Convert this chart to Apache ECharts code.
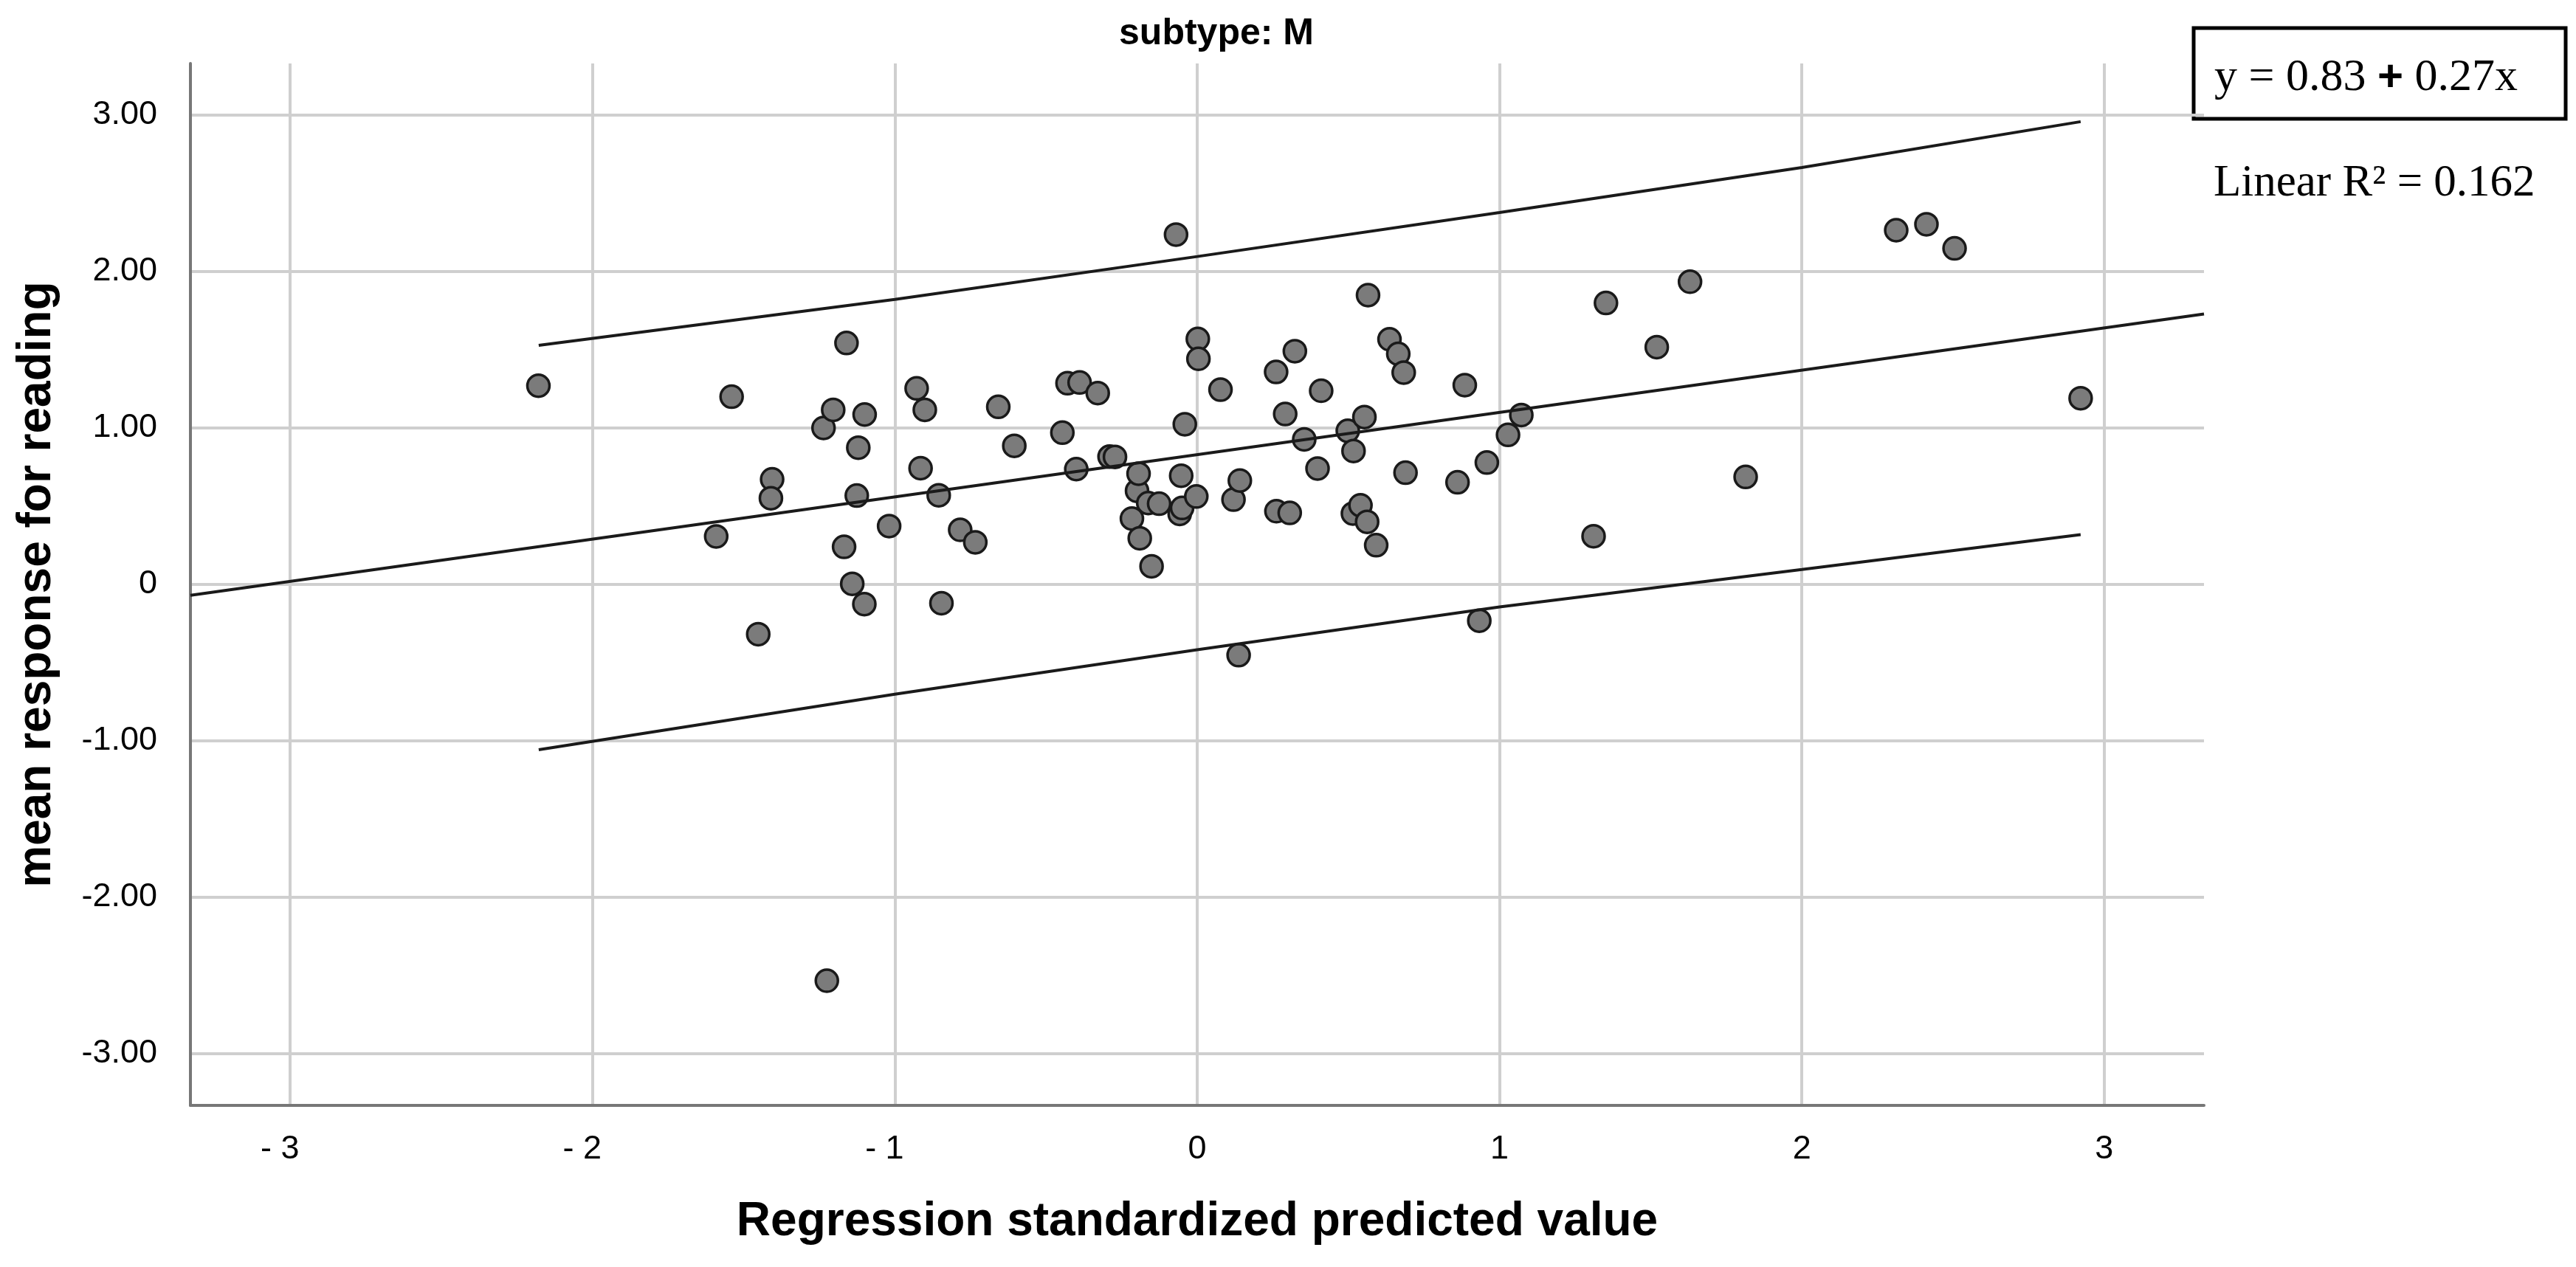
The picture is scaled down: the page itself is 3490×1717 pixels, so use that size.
<!DOCTYPE html>
<html>
<head>
<meta charset="utf-8">
<script src="https://cdn.jsdelivr.net/npm/echarts@6/dist/echarts.min.js"></script>
<style>
html,body{margin:0;padding:0;background:#ffffff;}
#chart{width:3490px;height:1717px;}
</style>
</head>
<body>
<div id="chart"></div>
<script>
// ---- data ----
const chartTitle = 'subtype: M';
const xAxisTitle = 'Regression standardized predicted value';
const yAxisTitle = 'mean response for reading';

const xTicks = [-3, -2, -1, 0, 1, 2, 3];
const yTicks = [-3, -2, -1, 0, 1, 2, 3];
const axisRange = [-3.33, 3.33];

const intercept = 0.83;
const slope = 0.27;
const rSquared = 0.162;

// observed points [predicted (std), mean response]
const points = [
  [-2.179, 1.270], [-1.591, 0.307], [-1.540, 1.200], [-1.452, -0.318],
  [-1.406, 0.672], [-1.410, 0.551], [-1.236, 1.000], [-1.225, -2.533],
  [-1.204, 1.116], [-1.168, 0.240], [-1.160, 1.543], [-1.141, 0.004],
  [-1.126, 0.568], [-1.121, 0.874], [-1.101, -0.126], [-1.100, 1.086],
  [-1.019, 0.373], [-0.928, 1.253], [-0.915, 0.743], [-0.901, 1.116],
  [-0.855, 0.570], [-0.846, -0.120], [-0.784, 0.349], [-0.734, 0.269],
  [-0.658, 1.135], [-0.605, 0.886], [-0.446, 0.970], [-0.429, 1.286],
  [-0.400, 0.737], [-0.389, 1.291], [-0.329, 1.223], [-0.290, 0.817],
  [-0.272, 0.815], [-0.216, 0.421], [-0.199, 0.598], [-0.194, 0.708],
  [-0.190, 0.295], [-0.162, 0.520], [-0.151, 0.116], [-0.126, 0.516],
  [-0.070, 2.236], [-0.058, 0.451], [-0.053, 0.695], [-0.050, 0.489],
  [-0.041, 1.024], [-0.003, 0.562], [0.002, 1.569], [0.004, 1.442],
  [0.077, 1.245], [0.120, 0.542], [0.137, -0.452], [0.141, 0.664],
  [0.261, 1.358], [0.262, 0.468], [0.291, 1.089], [0.306, 0.457],
  [0.323, 1.491], [0.354, 0.927], [0.398, 0.741], [0.410, 1.238],
  [0.498, 0.982], [0.515, 0.453], [0.517, 0.853], [0.540, 0.506],
  [0.553, 1.070], [0.562, 0.400], [0.565, 1.849], [0.592, 0.251],
  [0.636, 1.567], [0.665, 1.474], [0.683, 1.354], [0.689, 0.714],
  [0.861, 0.653], [0.885, 1.274], [0.933, -0.232], [0.958, 0.779],
  [1.028, 0.956], [1.072, 1.083], [1.311, 0.308], [1.352, 1.799],
  [1.520, 1.517], [1.630, 1.935], [1.814, 0.687], [2.312, 2.264],
  [2.412, 2.302], [2.505, 2.148], [2.922, 1.190]
];

// prediction interval curves
const upperBand = [[-2.178, 1.528], [-1, 1.822], [0, 2.096], [1, 2.377], [2, 2.665], [2.922, 2.958]];
const lowerBand = [[-2.178, -1.057], [-1, -0.702], [0, -0.417], [1, -0.144], [2, 0.095], [2.922, 0.318]];

// fit line endpoints follow the printed equation
const fitLine = axisRange.map(x => [x, intercept + slope * x]);

// ---- chart ----
const chart = echarts.init(document.getElementById('chart'), null, {renderer: 'canvas'});
const sans = "'Liberation Sans', Arial, Helvetica, sans-serif";
const serif = "'Liberation Serif', 'Times New Roman', serif";
const gridColor = '#cfcfcf';
const lineColor = '#1a1a1a';

const option = {
  animation: false,
  backgroundColor: '#ffffff',
  grid: {left: 258, right: 504, top: 86, bottom: 219, containLabel: false},
  xAxis: {
    type: 'value',
    min: axisRange[0], max: axisRange[1],
    name: xAxisTitle,
    nameLocation: 'middle',
    nameGap: 126,
    nameTextStyle: {fontFamily: sans, fontWeight: 'bold', fontSize: 64, color: '#000'},
    axisLine: {show: true, onZero: false, lineStyle: {color: '#777777', width: 4}},
    axisTick: {show: false, customValues: xTicks},
    splitLine: {show: true, lineStyle: {color: gridColor, width: 4}},
    axisLabel: {
      customValues: xTicks,
      margin: 37,
      fontFamily: sans, fontSize: 45, color: '#000',
      formatter: v => v < 0 ? '{n|- ' + Math.abs(v) + '}' : String(v),
      rich: {n: {fontFamily: sans, fontSize: 45, color: '#000', padding: [0, 28, 0, 0]}}
    }
  },
  yAxis: {
    type: 'value',
    min: axisRange[0], max: axisRange[1],
    name: yAxisTitle,
    nameLocation: 'middle',
    nameGap: 176,
    nameRotate: 90,
    nameTextStyle: {fontFamily: sans, fontWeight: 'bold', fontSize: 64, color: '#000'},
    axisLine: {show: true, onZero: false, lineStyle: {color: '#777777', width: 4}},
    axisTick: {show: false, customValues: yTicks},
    splitLine: {show: true, lineStyle: {color: gridColor, width: 4}},
    axisLabel: {
      customValues: yTicks,
      margin: 45,
      fontFamily: sans, fontSize: 45, color: '#000',
      formatter: v => v === 0 ? '0' : v.toFixed(2)
    }
  },
  series: [
    {
      type: 'scatter',
      data: points,
      symbol: 'circle',
      symbolSize: 30,
      itemStyle: {color: '#7b7b7b', borderColor: '#1a1a1a', borderWidth: 3.5, opacity: 1},
      z: 2
    },
    {
      type: 'line', data: fitLine, showSymbol: false, symbol: 'none',
      lineStyle: {color: lineColor, width: 4}, z: 3, silent: true
    },
    {
      type: 'line', data: upperBand, showSymbol: false, symbol: 'none',
      lineStyle: {color: lineColor, width: 4}, z: 3, silent: true
    },
    {
      type: 'line', data: lowerBand, showSymbol: false, symbol: 'none',
      lineStyle: {color: lineColor, width: 4}, z: 3, silent: true
    }
  ],
  graphic: [
    {
      type: 'text', x: 1648, y: 46,
      style: {text: chartTitle, fontFamily: sans, fontWeight: 'bold', fontSize: 50, fill: '#000', align: 'center', verticalAlign: 'middle'}
    },
    {
      type: 'rect', x: 0, y: 0,
      shape: {x: 2972, y: 38, width: 504, height: 123},
      style: {fill: '#ffffff', stroke: '#000000', lineWidth: 5}
    },
    {
      type: 'text', x: 3000, y: 106,
      style: {
        text: '{a|y = ' + intercept.toFixed(2) + ' }{p|+}{a| ' + slope.toFixed(2) + 'x}',
        rich: {
          a: {fontFamily: serif, fontSize: 62, fill: '#000'},
          p: {fontFamily: sans, fontWeight: 'bold', fontSize: 60, fill: '#000'}
        },
        verticalAlign: 'middle', align: 'left'
      }
    },
    {
      type: 'text', x: 2999, y: 249,
      style: {text: 'Linear R\u00B2 = ' + rSquared.toFixed(3), fontFamily: serif, fontSize: 61, fill: '#000', verticalAlign: 'middle', align: 'left'}
    }
  ]
};
chart.setOption(option);
</script>
</body>
</html>
